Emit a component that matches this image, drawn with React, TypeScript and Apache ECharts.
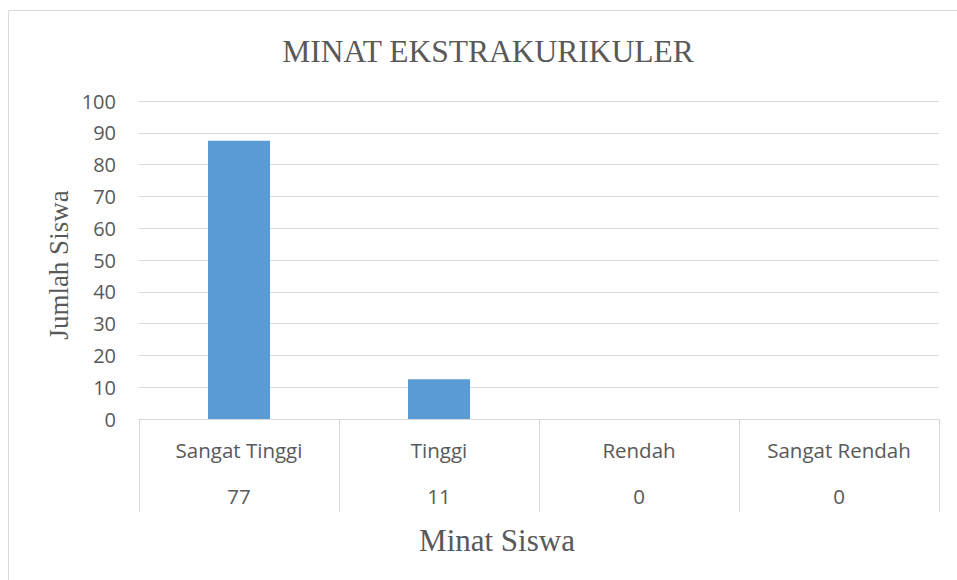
import React, { useEffect, useRef } from "react";
import * as echarts from "echarts";

const categories = ["Sangat Tinggi", "Tinggi", "Rendah", "Sangat Rendah"];
const barValues = [87.5, 12.5, 0, 0];
const tableValues = [77, 11, 0, 0];
const titleText = "MINAT EKSTRAKURIKULER";
const yAxisTitle = "Jumlah Siswa";
const xAxisTitle = "Minat Siswa";

export default function App() {
  const ref = useRef<HTMLDivElement>(null);
  useEffect(() => {
    document.body.style.margin = "0";
    if (!ref.current) return;
    const chart = echarts.init(ref.current, undefined, { renderer: "svg" });
    const labelColor = "#595959";
    const lineColor = "#d9d9d9";
    chart.setOption({
      animation: false,
      backgroundColor: "#ffffff",
      grid: { left: 139, right: 18, top: 101, bottom: 161, containLabel: false },
      xAxis: {
        type: "category",
        data: categories,
        axisLine: { show: true, lineStyle: { color: lineColor, width: 1 } },
        axisTick: { show: true, interval: 0, length: 93, lineStyle: { color: lineColor, width: 1 } },
        axisLabel: {
          interval: 0,
          margin: 8,
          formatter: (v: string, i: number) => `{a|${v}}\n{b|${tableValues[i]}}`,
          rich: {
            a: { fontFamily: "Open Sans", fontSize: 20.5, color: labelColor, lineHeight: 46 },
            b: { fontFamily: "Open Sans", fontSize: 20.5, color: labelColor, lineHeight: 46 },
          },
        },
        splitLine: { show: false },
      },
      yAxis: {
        type: "value",
        min: 0,
        max: 100,
        interval: 10,
        axisLine: { show: false },
        axisTick: { show: false },
        axisLabel: { fontFamily: "Open Sans", fontSize: 20, color: labelColor, margin: 23 },
        splitLine: { lineStyle: { color: lineColor, width: 1 } },
      },
      series: [
        {
          type: "bar",
          data: barValues,
          barWidth: 62,
          itemStyle: { color: "#5b9bd5" },
        },
      ],
      graphic: [
        {
          type: "rect",
          shape: { x: 8.5, y: 10.5, width: 1200, height: 1200 },
          style: { fill: "none", stroke: lineColor, lineWidth: 1 },
          silent: true,
        },
        {
          type: "text",
          x: 488,
          y: 51,
          style: {
            text: titleText,
            fontFamily: "Liberation Serif",
            fontSize: 31.5,
            fill: labelColor,
            textAlign: "center",
            textVerticalAlign: "middle",
          },
        },
        {
          type: "text",
          x: 59,
          y: 265,
          rotation: Math.PI / 2,
          style: {
            text: yAxisTitle,
            fontFamily: "Liberation Serif",
            fontSize: 27,
            fill: labelColor,
            textAlign: "center",
            textVerticalAlign: "middle",
          },
        },
        {
          type: "text",
          x: 497,
          y: 540,
          style: {
            text: xAxisTitle,
            fontFamily: "Liberation Serif",
            fontSize: 31,
            fill: labelColor,
            textAlign: "center",
            textVerticalAlign: "middle",
          },
        },
      ],
    });
    return () => chart.dispose();
  }, []);
  return <div ref={ref} style={{ width: 957, height: 580 }} />;
}
